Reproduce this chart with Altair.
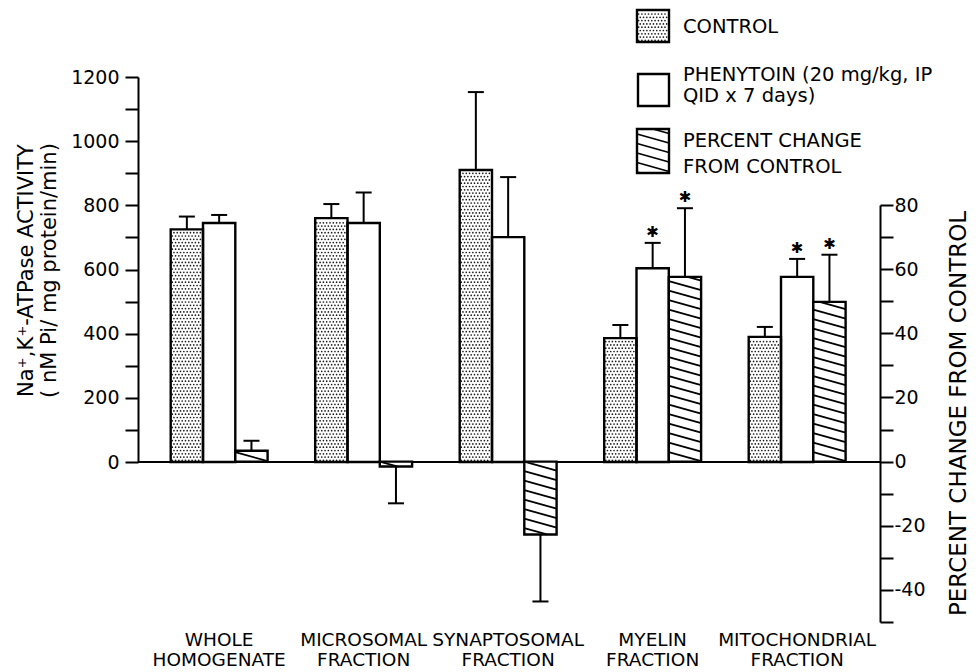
import altair as alt
import numpy as np
import pandas as pd

# ---------------------------------------------------------------- data
fraction_labels = [
    "WHOLE\nHOMOGENATE",
    "MICROSOMAL\nFRACTION",
    "SYNAPTOSOMAL\nFRACTION",
    "MYELIN\nFRACTION",
    "MITOCHONDRIAL\nFRACTION",
]
# Na+,K+-ATPase activity (nM Pi / mg protein / min), mean and error
control_mean = [725, 760, 910, 386, 390]
control_err = [40, 44, 243, 41, 31]
phenytoin_mean = [745, 745, 701, 604, 577]
phenytoin_err = [25, 95, 187, 79, 56]
# percent change from control, mean and error
pct_change = [3.4, -1.5, -22.7, 57.6, 49.8]
pct_err = [3.1, 11.5, 20.9, 21.4, 14.7]
# significance markers
phenytoin_signif = [False, False, False, True, True]
pct_signif = [False, False, False, True, True]

legend_labels = ["CONTROL", "PHENYTOIN (20 mg/kg, IP\nQID x 7 days)", "PERCENT CHANGE\nFROM CONTROL"]

# ---------------------------------------------------------------- layout
PLOT_W, PLOT_H = 742, 545
GROUP_PX = 144.5                    # pixels per fraction group
X_MAX = PLOT_W / GROUP_PX
LEAD = 32.7 / GROUP_PX              # gap before first bar of a group
BAR_W = 32.3 / GROUP_PX
CAP_HALF = 8 / GROUP_PX

LEFT_DOMAIN, LEFT_RANGE = [0, 1200], [385, 0]
RIGHT_DOMAIN, RIGHT_RANGE = [-50, 80], [545, 128]
LEFT_PPU = (LEFT_RANGE[0] - LEFT_RANGE[1]) / (LEFT_DOMAIN[1] - LEFT_DOMAIN[0])
RIGHT_PPU = (RIGHT_RANGE[0] - RIGHT_RANGE[1]) / (RIGHT_DOMAIN[1] - RIGHT_DOMAIN[0])

DOT_STEP_PX = 3.3
HATCH_GAP_PX, HATCH_DROP_PX = 9.5, 9.0

FONT = "DejaVu Sans"

# legend geometry in plot pixels (origin = top-left of the plot area)
LEGEND_BOXES = [(499, 531, -67, -35), (500, 531, -3, 29), (499, 531, 52, 96)]
LEGEND_TEXT_X = 545
LEGEND_LINE_Y = [[-44], [4, 25], [70, 96]]


def px_to_x(px):
    return px / GROUP_PX


def px_to_left(py):
    return (LEFT_RANGE[0] - py) / LEFT_PPU


# ---------------------------------------------------------------- helpers
def stipple(x0, x1, lo, hi, dx, dy, mx, my):
    """Staggered dot grid inside a rectangle."""
    pts = []
    row = 0
    y = lo + my
    while y <= hi - my:
        x = x0 + mx + (dx / 2 if row % 2 else 0)
        while x <= x1 - mx:
            pts.append((x, y))
            x += dx
        y += dy
        row += 1
    return pts


def hatch(x0, x1, lo, hi, gap, drop):
    """Diagonal hatch segments (falling to the right) clipped to a rectangle."""
    segs = []
    k = int(np.floor(lo / gap))
    while k * gap < hi + drop:
        c = k * gap
        u0 = max(0.0, (c - hi) / drop)
        u1 = min(1.0, (c - lo) / drop)
        if u1 - u0 > 0.02:
            segs.append((x0 + u0 * (x1 - x0), c - drop * u0,
                         x0 + u1 * (x1 - x0), c - drop * u1))
        k += 1
    return segs


# ---------------------------------------------------------------- tables
series = [
    ("control", control_mean, control_err, [False] * 5),
    ("phenytoin", phenytoin_mean, phenytoin_err, phenytoin_signif),
    ("pct", pct_change, pct_err, pct_signif),
]
rows = []
for g in range(len(fraction_labels)):
    for s, (name, mean, err, sig) in enumerate(series):
        v, e = mean[g], err[g]
        x0 = g + LEAD + s * BAR_W
        rows.append(dict(series=name, x0=x0, x1=x0 + BAR_W, xc=x0 + BAR_W / 2,
                         base=0.0, value=v, err_end=v + np.sign(v) * e, sig=bool(sig[g])))
bars = pd.DataFrame(rows)
left_bars = bars[bars.series != "pct"].reset_index(drop=True)
pct_bars = bars[bars.series == "pct"].reset_index(drop=True)

dots = []
for _, r in bars[bars.series == "control"].iterrows():
    dots += stipple(r.x0, r.x1, 0, r.value,
                    DOT_STEP_PX / GROUP_PX, DOT_STEP_PX / LEFT_PPU,
                    1.6 / GROUP_PX, 1.6 / LEFT_PPU)

segs = []
for _, r in pct_bars.iterrows():
    segs += hatch(r.x0, r.x1, min(0, r.value), max(0, r.value),
                  HATCH_GAP_PX / RIGHT_PPU, HATCH_DROP_PX / RIGHT_PPU)
hatch_df = pd.DataFrame(segs, columns=["x", "y", "x2", "y2"])

centers = [g + LEAD + 1.5 * BAR_W for g in range(len(fraction_labels))]
xlab_df = pd.DataFrame({"label": fraction_labels, "xc": centers})

# legend swatches, placed through the activity scale
box_df = pd.DataFrame(
    [(px_to_x(a), px_to_x(b), px_to_left(c), px_to_left(d)) for a, b, c, d in LEGEND_BOXES],
    columns=["x", "x2", "y", "y2"])
lx0, lx1, ly0, ly1 = LEGEND_BOXES[0]
for x, v in stipple(lx0, lx1, -ly1, -ly0, DOT_STEP_PX, DOT_STEP_PX, 1.6, 1.6):
    dots.append((px_to_x(x), px_to_left(-v)))
dots_df = pd.DataFrame(dots, columns=["x", "y"])

hx0, hx1, hy0, hy1 = LEGEND_BOXES[2]
leg_hatch = pd.DataFrame(
    [(px_to_x(a), px_to_left(-b), px_to_x(c), px_to_left(-d))
     for a, b, c, d in hatch(hx0, hx1, -hy1, -hy0, HATCH_GAP_PX, HATCH_DROP_PX)],
    columns=["x", "y", "x2", "y2"])
leg_text = pd.DataFrame(
    [(px_to_x(LEGEND_TEXT_X), px_to_left(y), line)
     for lab, ys in zip(legend_labels, LEGEND_LINE_Y)
     for line, y in zip(lab.split("\n"), ys)],
    columns=["x", "y", "text"])

# ---------------------------------------------------------------- scales & axes
x_scale = alt.Scale(domain=[0, X_MAX], nice=False, zero=False)
left_scale = alt.Scale(domain=LEFT_DOMAIN, range=LEFT_RANGE, nice=False, zero=False)
right_scale = alt.Scale(domain=RIGHT_DOMAIN, range=RIGHT_RANGE, nice=False, zero=False)

axis_common = dict(
    tickSize=13, tickWidth=2, tickColor="black", domainColor="black", domainWidth=2,
    labelFontSize=19, labelColor="black", labelFont=FONT, labelFlush=False,
    labelOverlap=False, grid=False, titleFont=FONT, titleFontWeight="normal",
    titleColor="black", titleAngle=270, titleAlign="center", titleBaseline="top",
)
left_axis = alt.Axis(
    orient="left", values=list(range(0, 1201, 100)),
    labelExpr="datum.value % 200 == 0 ? '' + datum.value : ''",
    labelPadding=6,
    title=["Na⁺,K⁺-ATPase ACTIVITY", "( nM Pi/ mg protein/min)"],
    titleFontSize=21, titleLineHeight=23, titleX=-123, titleY=193,
    **axis_common,
)
right_axis = alt.Axis(
    orient="right", values=list(range(-50, 81, 10)),
    labelExpr="datum.value % 20 == 0 ? '' + datum.value : ''",
    labelPadding=1,
    title="PERCENT CHANGE FROM CONTROL",
    titleFontSize=23, titleX=67, titleY=336,
    **axis_common,
)


def X(field):
    return alt.X(field, type="quantitative", scale=x_scale, axis=None)


def YL(field, axis=alt.Undefined):
    return alt.Y(field, type="quantitative", scale=left_scale, axis=axis)


def YR(field, axis=alt.Undefined):
    return alt.Y(field, type="quantitative", scale=right_scale, axis=axis)


OUTLINE = dict(fillOpacity=0, stroke="black", strokeWidth=2.4)
STAR = dict(text="✱", fontSize=15, baseline="middle", align="center", dy=-11, color="black")
DOT = dict(size=2.8, color="#1a1a1a", opacity=1)

# ---------------------------------------------------------------- activity bars (left scale)
lb = alt.Chart(left_bars)
left_group = alt.layer(
    alt.Chart(pd.DataFrame({"z": [0]})).mark_rule(color="black", strokeWidth=2)
      .encode(y=YL("z", left_axis)),
    lb.mark_rect(fill="white").encode(x=X("x0"), x2="x1", y=YL("base"), y2="value"),
    alt.Chart(box_df).mark_rect(fill="white").encode(x=X("x"), x2="x2", y=YL("y"), y2="y2"),
    alt.Chart(dots_df).mark_circle(**DOT).encode(x=X("x"), y=YL("y")),
    alt.Chart(leg_hatch).mark_rule(color="black", strokeWidth=1.8)
      .encode(x=X("x"), y=YL("y"), x2="x2", y2="y2"),
    lb.mark_rect(**OUTLINE).encode(x=X("x0"), x2="x1", y=YL("base"), y2="value"),
    alt.Chart(box_df).mark_rect(**OUTLINE).encode(x=X("x"), x2="x2", y=YL("y"), y2="y2"),
    lb.mark_rule(color="black", strokeWidth=2).encode(x=X("xc"), y=YL("value"), y2="err_end"),
    lb.transform_calculate(c0=f"datum.xc - {CAP_HALF}", c1=f"datum.xc + {CAP_HALF}")
      .mark_rule(color="black", strokeWidth=2).encode(x=X("c0"), x2="c1", y=YL("err_end")),
    lb.transform_filter("datum.sig").mark_text(**STAR).encode(x=X("xc"), y=YL("err_end")),
    alt.Chart(xlab_df).mark_text(lineBreak="\n", baseline="top", align="center", fontSize=18.5,
                                 lineHeight=20, font=FONT, color="black")
      .encode(x=X("xc"), y=alt.value(554), text="label:N"),
    alt.Chart(leg_text).mark_text(align="left", baseline="alphabetic", fontSize=19.5, font=FONT,
                                  color="black")
      .encode(x=X("x"), y=YL("y"), text="text:N"),
)

# ---------------------------------------------------------------- percent change bars (right scale)
pb = alt.Chart(pct_bars)
right_group = alt.layer(
    pb.mark_rect(fill="white").encode(x=X("x0"), x2="x1", y=YR("base", right_axis), y2="value"),
    alt.Chart(hatch_df).mark_rule(color="black", strokeWidth=1.8)
      .encode(x=X("x"), y=YR("y"), x2="x2", y2="y2"),
    pb.mark_rect(**OUTLINE).encode(x=X("x0"), x2="x1", y=YR("base"), y2="value"),
    pb.mark_rule(color="black", strokeWidth=2).encode(x=X("xc"), y=YR("value"), y2="err_end"),
    pb.transform_calculate(c0=f"datum.xc - {CAP_HALF}", c1=f"datum.xc + {CAP_HALF}")
      .mark_rule(color="black", strokeWidth=2).encode(x=X("c0"), x2="c1", y=YR("err_end")),
    pb.transform_filter("datum.sig").mark_text(**STAR).encode(x=X("xc"), y=YR("err_end")),
)

chart = (
    alt.layer(left_group, right_group)
    .resolve_scale(y="independent")
    .properties(
        width=PLOT_W, height=PLOT_H,
        padding={"left": 138, "top": 77, "right": 96, "bottom": 50},
        autosize=alt.AutoSizeParams(type="none"),
        background="white",
    )
    .configure(font=FONT)
    .configure_view(strokeWidth=0)
)

chart.save("out.html", embed_options={"renderer": "svg", "actions": False})
